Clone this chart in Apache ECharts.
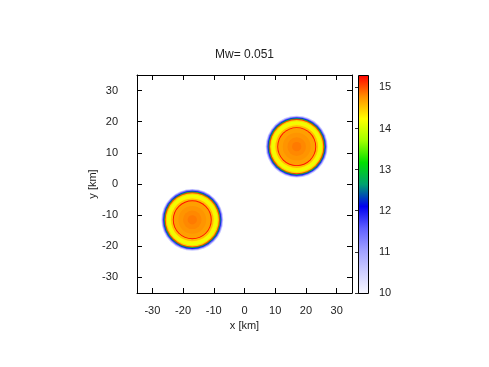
<!DOCTYPE html>
<html>
<head>
<meta charset="utf-8" />
<title>Mw= 0.051</title>
<script src="https://cdn.jsdelivr.net/npm/echarts@6/dist/echarts.min.js"></script>
<style>
  html, body { margin: 0; padding: 0; background: #fff; }
  #main { width: 489px; height: 367px; }
</style>
</head>
<body>
<div id="main"></div>
<script>
// axis ticks
var xTicks = [-30, -20, -10, 0, 10, 20, 30];
var yTicks = [-30, -20, -10, 0, 10, 20, 30];
var cbarTicks = [10, 11, 12, 13, 14, 15];
var cbarMin = 10, cbarMax = 15.3;

// palette, evenly spaced from cbarMin to cbarMax
var palette = ['#f8f8ff', '#cfcfff', '#a0a0ff', '#6060ff', '#0000f0', '#00a070',
               '#00e000', '#a0ff00', '#ffff00', '#ff9000', '#ff0000'];

// two sources (centres in km)
var blobX = [-17, 17];
var blobY = [-11.5, 12];

// radial profile: ring outer radius (km) and value
var ringRadius = [10.0, 9.7, 9.4, 9.15, 8.9, 8.6, 8.2, 7.4, 6.9, 6.3, 6.0, 4.5, 3.0, 1.5];
var ringValue  = [10.6, 11.4, 12.0, 12.9, 15.1, 14.45, 14.15, 14.3, 14.55, 15.25, 14.7, 14.75, 14.8, 14.85];

var ringData = [];
for (var b = 0; b < blobX.length; b++) {
  for (var i = 0; i < ringRadius.length; i++) {
    ringData.push([blobX[b], blobY[b], ringRadius[i], ringValue[i]]);
  }
}

var font = 'Liberation Sans';
var txt = '#222';

function frameAxis(pos, grid, show) {
  var ticks = (pos === 'left' || pos === 'right') ? yTicks : xTicks;
  return {
    gridIndex: grid, position: pos, type: 'value', min: -35, max: 35,
    axisLine: { show: true, onZero: false, lineStyle: { color: '#000', width: 1 } },
    axisTick: { show: true, inside: true, length: 5, customValues: ticks,
                lineStyle: { color: '#000' } },
    axisLabel: { show: show, customValues: ticks,
                 fontFamily: font, fontSize: 11, color: txt, margin: pos === 'left' ? 19 : 12 },
    splitLine: { show: false }
  };
}

var xBottom = frameAxis('bottom', 0, true);
xBottom.name = 'x [km]';
xBottom.nameLocation = 'middle';
xBottom.nameGap = 26;
xBottom.nameTextStyle = { fontFamily: font, fontSize: 11, color: txt };
var yLeft = frameAxis('left', 0, true);
yLeft.name = 'y [km]';
yLeft.nameLocation = 'middle';
yLeft.nameGap = 29;
yLeft.nameTextStyle = { fontFamily: font, fontSize: 11, color: txt };

var chart = echarts.init(document.getElementById('main'), null, { renderer: 'canvas' });
var option = {
  animation: false,
  backgroundColor: '#fff',
  title: {
    text: 'Mw= 0.051', left: 'center', top: 44,
    textStyle: { fontFamily: font, fontSize: 12, fontWeight: 'normal', color: txt }
  },
  grid: [
    { left: 137, top: 75, width: 215, height: 218, outerBoundsMode: 'none' },
    { left: 358, top: 75, width: 10, height: 218, outerBoundsMode: 'none' }
  ],
  xAxis: [
    xBottom,
    frameAxis('top', 0, false),
    { gridIndex: 1, type: 'value', min: 0, max: 1, show: false }
  ],
  yAxis: [
    yLeft,
    frameAxis('right', 0, false),
    {
      gridIndex: 1, type: 'value', position: 'right', min: cbarMin, max: cbarMax,
      axisLine: { show: false },
      axisTick: { show: true, inside: true, length: 3, customValues: cbarTicks,
                  lineStyle: { color: '#333', type: 'dashed' } },
      axisLabel: { customValues: cbarTicks, fontFamily: font, fontSize: 11, color: txt, margin: 11 },
      splitLine: { show: false }
    },
    {
      gridIndex: 1, type: 'value', position: 'left', min: cbarMin, max: cbarMax,
      axisLine: { show: false },
      axisTick: { show: true, inside: true, length: 3, customValues: cbarTicks,
                  lineStyle: { color: '#333', type: 'dashed' } },
      axisLabel: { show: false },
      splitLine: { show: false }
    }
  ],
  visualMap: {
    show: false, type: 'continuous', min: cbarMin, max: cbarMax,
    dimension: 3, seriesIndex: 0, inRange: { color: palette }
  },
  series: [
    {
      type: 'custom',
      xAxisIndex: 0, yAxisIndex: 0,
      clip: true,
      encode: { x: 0, y: 1 },
      data: ringData,
      renderItem: function (params, api) {
        var c = api.coord([api.value(0), api.value(1)]);
        var s = api.size([api.value(2), api.value(2)]);
        return {
          type: 'circle',
          shape: { cx: c[0], cy: c[1], r: (s[0] + s[1]) / 2 },
          style: { fill: api.visual('color') }
        };
      }
    },
    {
      type: 'custom',
      xAxisIndex: 2, yAxisIndex: 2,
      data: [[0, cbarMax, 1, cbarMin]],
      z: 1,
      renderItem: function (params, api) {
        var p0 = api.coord([api.value(0), api.value(1)]);
        var p1 = api.coord([api.value(2), api.value(3)]);
        var stops = palette.map(function (c, k) {
          return { offset: k / (palette.length - 1), color: c };
        });
        return {
          type: 'rect',
          shape: { x: Math.round(p0[0]) + 0.5, y: Math.round(p0[1]) + 0.5,
                   width: Math.round(p1[0] - p0[0]), height: Math.round(p1[1] - p0[1]) },
          style: {
            fill: new echarts.graphic.LinearGradient(0, 1, 0, 0, stops),
            stroke: '#000', lineWidth: 1
          }
        };
      }
    }
  ]
};
chart.setOption(option);
</script>
</body>
</html>
